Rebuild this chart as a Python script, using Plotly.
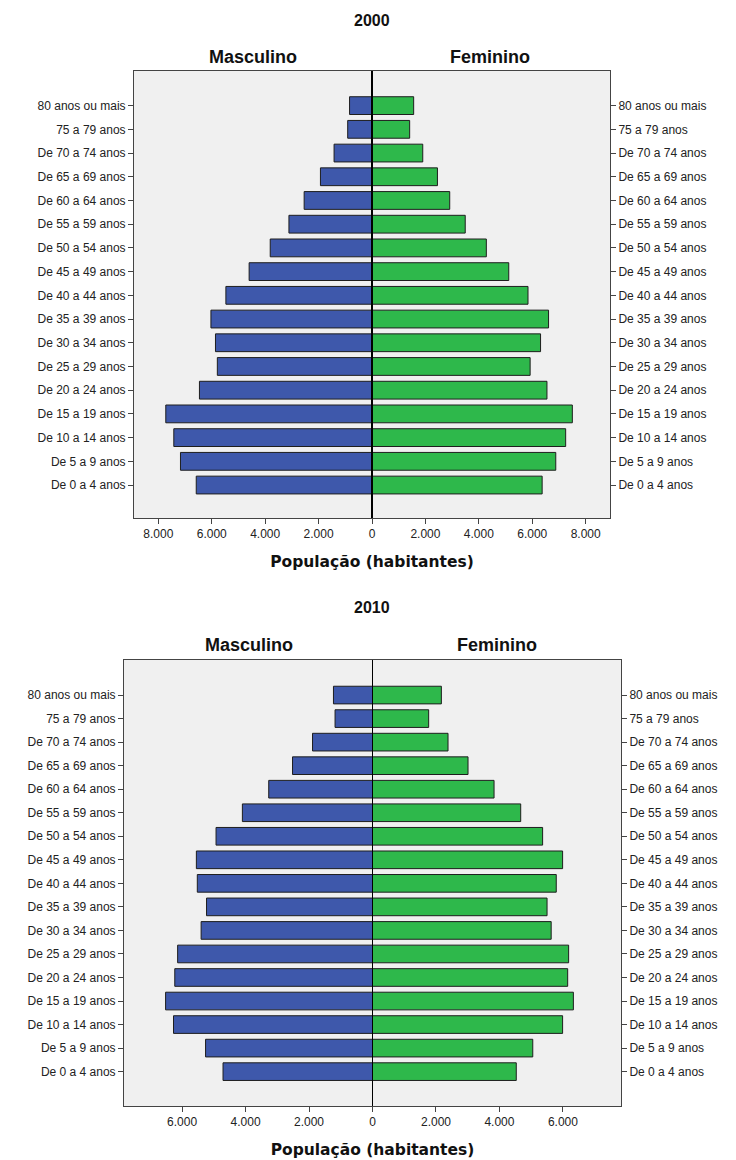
import plotly.graph_objects as go

categories = ["De 0 a 4 anos", "De 5 a 9 anos", "De 10 a 14 anos", "De 15 a 19 anos",
              "De 20 a 24 anos", "De 25 a 29 anos", "De 30 a 34 anos", "De 35 a 39 anos",
              "De 40 a 44 anos", "De 45 a 49 anos", "De 50 a 54 anos", "De 55 a 59 anos",
              "De 60 a 64 anos", "De 65 a 69 anos", "De 70 a 74 anos", "75 a 79 anos",
              "80 anos ou mais"]

male_2000 = [6580, 7170, 7420, 7720, 6460, 5790, 5860, 6030, 5470, 4600, 3810, 3110,
             2540, 1930, 1420, 910, 840]
female_2000 = [6370, 6880, 7250, 7500, 6550, 5920, 6310, 6610, 5840, 5120, 4280, 3490,
               2910, 2450, 1900, 1410, 1560]
male_2010 = [4710, 5260, 6270, 6520, 6230, 6140, 5400, 5230, 5520, 5550, 4930, 4100,
             3270, 2520, 1890, 1180, 1230]
female_2010 = [4530, 5050, 5990, 6330, 6150, 6180, 5630, 5500, 5790, 5990, 5360, 4670,
               3830, 3010, 2380, 1770, 2170]

ticks_2000 = [-8000, -6000, -4000, -2000, 0, 2000, 4000, 6000, 8000]
ticks_2010 = [-6000, -4000, -2000, 0, 2000, 4000, 6000]


def fmt(v):
    return f"{abs(v):,}".replace(",", ".")


BLUE = "#3E58AB"
GREEN = "#2EB84B"
EDGE = "#1E1E1E"
FONT = "Liberation Sans, Arial, sans-serif"
H, W = 1160, 736

ypos = list(range(len(categories)))

fig = go.Figure()


def add_panel(male, female, xa, ya, ya_r):
    fig.add_trace(go.Bar(y=ypos, x=[-v for v in male], orientation="h",
                         marker=dict(color=BLUE, line=dict(color=EDGE, width=1)),
                         xaxis=xa, yaxis=ya, showlegend=False, name="Masculino",
                         customdata=male, hovertemplate="%{customdata}<extra>Masculino</extra>"))
    fig.add_trace(go.Bar(y=ypos, x=female, orientation="h",
                         marker=dict(color=GREEN, line=dict(color=EDGE, width=1)),
                         xaxis=xa, yaxis=ya, showlegend=False, name="Feminino"))
    fig.add_trace(go.Scatter(y=ypos, x=[0] * len(ypos), mode="markers",
                             marker=dict(opacity=0), xaxis=xa, yaxis=ya_r,
                             showlegend=False, hoverinfo="skip"))


add_panel(male_2000, female_2000, "x", "y", "y3")
add_panel(male_2010, female_2010, "x2", "y2", "y4")

tickfont = dict(family=FONT, size=12, color="#222222")
titlefont = dict(family="DejaVu Sans, Verdana, sans-serif", size=15.5, color="#111111")
AXCOL = "#444444"


def px_x(a, b):
    return [a / W, b / W]


def px_y(top, bottom):
    return [1 - bottom / H, 1 - top / H]


common_x = dict(showgrid=False, zeroline=False, showline=True, linecolor=AXCOL,
                linewidth=1, mirror=True, ticks="outside", ticklen=5, tickcolor=AXCOL,
                tickfont=tickfont, fixedrange=True)
common_y = dict(showgrid=False, zeroline=False, showline=True, linecolor=AXCOL,
                linewidth=1, mirror=True, ticks="outside", ticklen=5, tickcolor=AXCOL,
                tickfont=tickfont, tickvals=ypos, ticktext=categories)

R1 = [-1.39, 17.46]
R2 = [-1.46, 17.49]

fig.update_layout(
    width=W, height=H, margin=dict(l=0, r=0, t=0, b=0),
    paper_bgcolor="white", plot_bgcolor="#F0F0F0",
    barmode="relative", bargap=0.25,
    xaxis=dict(domain=px_x(134, 610), anchor="y", range=[-8910, 8910],
               tickvals=ticks_2000, ticktext=[fmt(v) for v in ticks_2000],
               title=dict(text="<b>População (habitantes)</b>", font=titlefont, standoff=15),
               **common_x),
    yaxis=dict(domain=px_y(71, 518), anchor="x", range=R1, **common_y),
    yaxis3=dict(overlaying="y", side="right", anchor="x", range=R1, **common_y),
    xaxis2=dict(domain=px_x(124, 621), anchor="y2", range=[-7830, 7830],
                tickvals=ticks_2010, ticktext=[fmt(v) for v in ticks_2010],
                title=dict(text="<b>População (habitantes)</b>", font=titlefont, standoff=15),
                **common_x),
    yaxis2=dict(domain=px_y(660, 1106), anchor="x2", range=R2, **common_y),
    yaxis4=dict(overlaying="y2", side="right", anchor="x2", range=R2, **common_y),
)

# vertical zero lines above bars
fig.add_shape(type="line", xref="x", yref="y domain", x0=0, x1=0, y0=0, y1=1,
              line=dict(color="black", width=2), layer="above")
fig.add_shape(type="line", xref="x2", yref="y2 domain", x0=0, x1=0, y0=0, y1=1,
              line=dict(color="black", width=1), layer="above")


def ann(text, x, y, size=18):
    fig.add_annotation(text=f"<b>{text}</b>", xref="paper", yref="paper",
                       x=x / W, y=1 - y / H, showarrow=False, xanchor="center",
                       yanchor="middle", font=dict(family=FONT, size=size, color="#111111"))


ann("2000", 372, 20, 16)
ann("Masculino", 253, 57)
ann("Feminino", 490, 57)
ann("2010", 372, 607, 16)
ann("Masculino", 249, 645)
ann("Feminino", 497, 645)

fig.write_html("out.html", config={"displayModeBar": False},
               post_script="document.body.style.margin='0';")
